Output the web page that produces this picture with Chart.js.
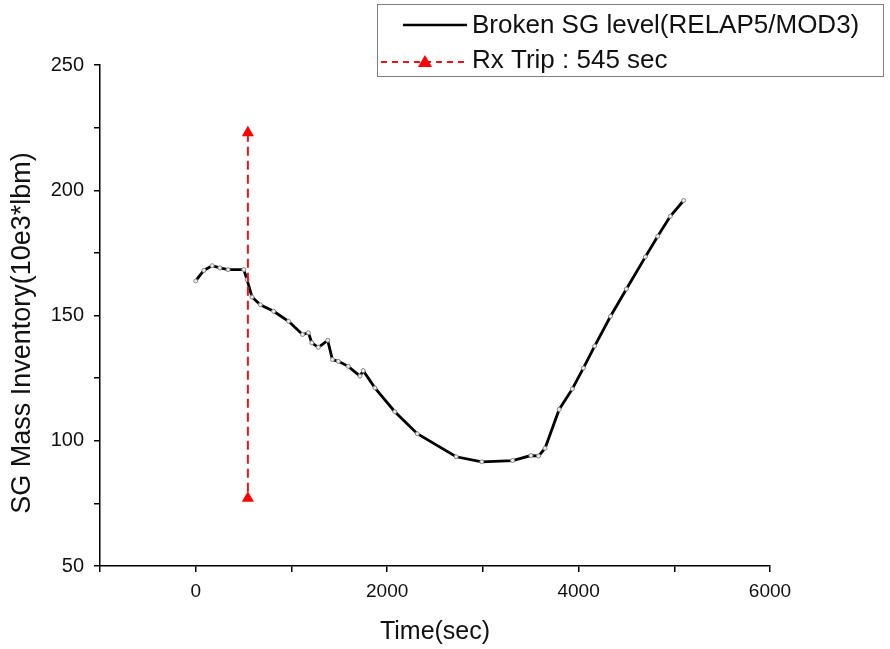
<!DOCTYPE html>
<html>
<head>
<meta charset="utf-8">
<script src="https://cdn.jsdelivr.net/npm/chart.js@4.4.1/dist/chart.umd.min.js"></script>
<style>
  html, body { margin: 0; padding: 0; background: #fff; }
  canvas { display: block; }
</style>
</head>
<body>
<canvas id="chart" width="890" height="649"></canvas>
<script>
// Broken SG level (RELAP5/MOD3)
const timeSec = [0, 85, 172, 252, 338, 502, 536, 588, 675, 814, 970, 1116, 1178, 1212, 1282,
                 1379, 1428, 1490, 1594, 1716, 1750, 1872, 2080, 2315, 2721, 2989, 3311, 3502,
                 3582, 3650, 3797, 3935, 4050, 4168, 4334, 4500, 4698, 4827, 4958, 5098];
const sgMass  = [163.8, 168, 169.9, 169, 168.3, 168.3, 164.3, 157.4, 154.3, 151.7, 147.7, 142.4, 143.1, 139.1, 137.3,
                 140.1, 132.4, 131.7, 129.7, 125.8, 128, 121.1, 111.6, 102.8, 93.6, 91.6, 92.1, 94.1,
                 93.9, 97, 112.5, 120.7, 129, 137.8, 149.7, 160.6, 173.4, 181.6, 189.6, 195.9];

// reactor trip marker
const tripTime  = [545, 545];
const tripLevel = [223, 77];

const seriesLabels = ['Broken SG level(RELAP5/MOD3)', 'Rx Trip : 545 sec'];
const yTitle = 'SG Mass Inventory(10e3*lbm)';

const FONT = '"Liberation Sans", Arial, sans-serif';

const toPoints = (xs, ys) => xs.map((x, i) => ({ x, y: ys[i] }));

// Origin-style legend box in the top right corner, plus the y title
const boxLegend = {
  id: 'boxLegend',
  afterDraw(chart) {
    const ctx = chart.ctx;
    ctx.save();
    ctx.strokeStyle = '#808080';
    ctx.lineWidth = 1;
    ctx.strokeRect(377.5, 4.5, 506, 72);

    // black line sample
    ctx.strokeStyle = '#000';
    ctx.lineWidth = 2.5;
    ctx.beginPath();
    ctx.moveTo(403, 25);
    ctx.lineTo(467, 25);
    ctx.stroke();

    // red dashed sample with triangle
    ctx.strokeStyle = '#e8141c';
    ctx.lineWidth = 2;
    ctx.setLineDash([6, 5]);
    ctx.beginPath();
    ctx.moveTo(381, 62);
    ctx.lineTo(467, 62);
    ctx.stroke();
    ctx.setLineDash([]);
    ctx.fillStyle = '#ff0000';
    ctx.beginPath();
    ctx.moveTo(425, 55);
    ctx.lineTo(432, 67);
    ctx.lineTo(418, 67);
    ctx.closePath();
    ctx.fill();

    ctx.fillStyle = '#111';
    ctx.font = '26px ' + FONT;
    ctx.textBaseline = 'middle';
    ctx.textAlign = 'left';
    ctx.fillText(seriesLabels[0], 472, 26);
    ctx.fillText(seriesLabels[1], 472, 61);

    // y axis title, sits a bit below the plot centre in the original
    ctx.translate(23, 333);
    ctx.rotate(-Math.PI / 2);
    ctx.textAlign = 'center';
    ctx.font = '27px ' + FONT;
    ctx.fillText(yTitle, 0, 0);
    ctx.restore();
  }
};

new Chart(document.getElementById('chart'), {
  type: 'scatter',
  data: {
    datasets: [
      {
        label: seriesLabels[1],
        data: toPoints(tripTime, tripLevel),
        showLine: true,
        borderColor: '#e8141c',
        borderWidth: 2,
        borderDash: [9, 5],
        pointStyle: 'triangle',
        pointRadius: 7,
        pointBackgroundColor: '#ff0000',
        pointBorderColor: '#ff0000',
        pointBorderWidth: 0,
      },
      {
        label: seriesLabels[0],
        data: toPoints(timeSec, sgMass),
        showLine: true,
        borderColor: '#000',
        borderWidth: 2.8,
        pointRadius: 2,
        pointBackgroundColor: '#eee',
        pointBorderColor: '#888',
        pointBorderWidth: 1,
      },
    ],
  },
  options: {
    responsive: false,
    animation: false,
    layout: { padding: { left: 0, right: 120, top: 65, bottom: 0 } },
    plugins: {
      legend: { display: false },
      tooltip: { enabled: false },
    },
    scales: {
      x: {
        type: 'linear',
        min: -1000,
        max: 6000,
        afterFit: s => { s.height = 83; },
        border: { display: true, color: '#000', width: 1.5 },
        grid: { drawOnChartArea: false, drawTicks: true, tickLength: 6, color: '#000', lineWidth: 1.5 },
        ticks: {
          stepSize: 1000,
          padding: 8,
          color: '#111',
          font: { family: FONT, size: 19 },
          maxRotation: 0,
          callback: v => (v >= 0 && v % 2000 === 0) ? String(v) : '',
        },
        title: {
          display: true,
          text: 'Time(sec)',
          color: '#111',
          font: { family: FONT, size: 25 },
          padding: { top: 0, bottom: 2 },
        },
      },
      y: {
        type: 'linear',
        min: 50,
        max: 250,
        afterFit: s => { s.width = 100; },
        border: { display: true, color: '#000', width: 1.5 },
        grid: { drawOnChartArea: false, drawTicks: true, tickLength: 6, color: '#000', lineWidth: 1.5 },
        ticks: {
          stepSize: 25,
          padding: 10,
          color: '#111',
          font: { family: FONT, size: 20 },
          callback: v => v % 50 === 0 ? String(v) : '',
        },
        title: { display: false },
      },
    },
  },
  plugins: [boxLegend],
});
</script>
</body>
</html>
